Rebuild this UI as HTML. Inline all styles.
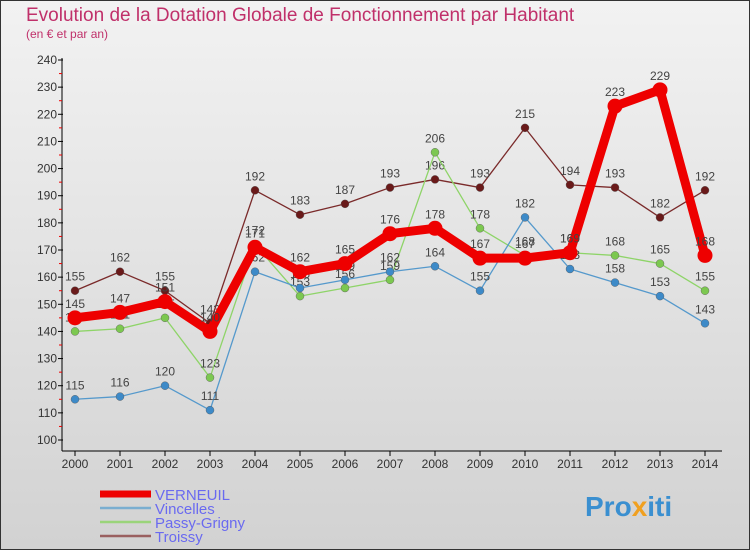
<!DOCTYPE html>
<html><head><meta charset="utf-8"><style>
body{margin:0}
#c{width:750px;height:550px;position:relative;background:linear-gradient(#f2f2f2,#d2d2d2);font-family:"Liberation Sans",sans-serif;box-sizing:border-box;border:1px solid #333}
</style></head><body>
<div id="c">
<svg id="s" width="750" height="550" style="position:absolute;left:-1px;top:-1px">
<text x="26" y="21" font-size="19" fill="#c0306a">Evolution de la Dotation Globale de Fonctionnement par Habitant</text>
<text x="26" y="38" font-size="12" fill="#c0306a">(en € et par an)</text>
<text x="585" y="516" font-size="28" font-weight="bold" fill="#3a8fd0">Pro<tspan fill="#f0a020">x</tspan>iti</text>
</svg>
</div>
<script>
const years=[2000,2001,2002,2003,2004,2005,2006,2007,2008,2009,2010,2011,2012,2013,2014];
const yTicks=[100,110,120,130,140,150,160,170,180,190,200,210,220,230,240];
const verneuil=[145,147,151,140,171,162,165,176,178,167,167,169,223,229,168];
const vincelles=[115,116,120,111,162,156,159,162,164,155,182,163,158,153,143];
const passy=[140,141,145,123,172,153,156,159,206,178,168,169,168,165,155];
const troissy=[155,162,155,143,192,183,187,193,196,193,215,194,193,182,192];
const s=document.getElementById('s');const NS='http://www.w3.org/2000/svg';
const X=i=>75+i*45, Y=v=>440-(v-100)*380/140;
function mk(t,a,p){const e=document.createElementNS(NS,t);for(const k in a)e.setAttribute(k,a[k]);(p||s).appendChild(e);return e;}
let ax=mk('line',{x1:62,y1:58,x2:62,y2:451,stroke:'#000'});


let bx=mk('line',{x1:62,y1:451,x2:722,y2:451,stroke:'#000'});


yTicks.forEach(v=>{mk('line',{x1:58,y1:Y(v),x2:63,y2:Y(v),stroke:'#000'});
if(v<240)mk('line',{x1:59,y1:Y(v+5),x2:62,y2:Y(v+5),stroke:'#e00'});
const t=mk('text',{x:57,y:Y(v)+4,'font-size':12,'text-anchor':'end',fill:'#333'});t.textContent=v;

});
years.forEach((y,i)=>{mk('line',{x1:X(i),y1:451,x2:X(i),y2:456,stroke:'#000'});
const t=mk('text',{x:X(i),y:468,'font-size':12,'text-anchor':'middle',fill:'#333'});t.textContent=y;

});
const series=[[troissy,'#7a2a2a','#6a1a1a',1.3,4,'troissy'],[passy,'#8ed468','#7cc850',1.3,4,'passy-grigny'],[vincelles,'#5599cc','#3d8ac8',1.3,4,'vincelles'],[verneuil,'#ee0000','#ee0000',9,7.5,'verneuil']];
series.forEach(([d,c,f,w,r,n])=>{const g=mk('g',{});


mk('polyline',{points:d.map((v,i)=>X(i)+','+Y(v)).join(' '),fill:'none',stroke:c,'stroke-width':w,'stroke-linejoin':'round'},g);
d.forEach((v,i)=>{const p=mk('circle',{cx:X(i),cy:Y(v),r:r,fill:f,stroke:w>2?'none':'#555','stroke-width':0.4},g);


const t=mk('text',{x:X(i),y:Y(v)-10,'font-size':12,'text-anchor':'middle',fill:'#444'},g);t.textContent=v;});});
const leg=[['VERNEUIL','#ee0000',7],['Vincelles','#7aaed0',2.5],['Passy-Grigny','#9ad47a',2.5],['Troissy','#9a6060',2.5]];
leg.forEach(([n,c,w],i)=>{const y=494+i*14;const g=mk('g',{});


mk('line',{x1:100,y1:y,x2:151,y2:y,stroke:c,'stroke-width':w},g);
const t=mk('text',{x:155,y:y+6,'font-size':15,fill:'#6a6af0'},g);t.textContent=n;});
</script>
</body></html>
